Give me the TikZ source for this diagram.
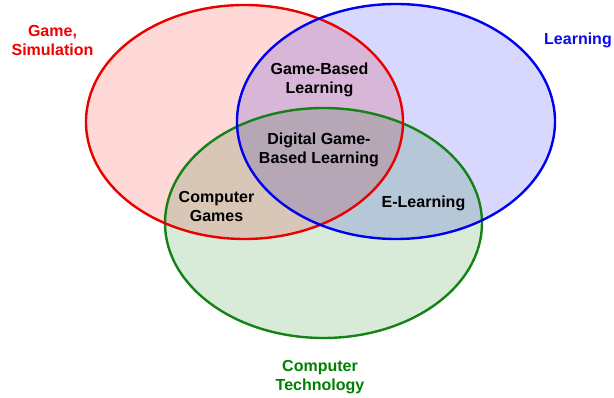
\documentclass[tikz,border=0pt]{standalone}
\usepackage{fontspec}
\setmainfont{Liberation Sans}
\begin{document}
\begin{tikzpicture}[x=1pt,y=1pt,
  setfill/.style={line width=0pt,draw=none},
  setline/.style={line width=2.4pt},
  lbl/.style={font=\bfseries\fontsize{16}{19}\selectfont,align=center,inner sep=0pt},
]
\definecolor{gsred}{RGB}{255,216,216}
\definecolor{gsblue}{RGB}{216,216,255}
\definecolor{gsgreen}{RGB}{216,235,216}
\definecolor{linered}{RGB}{235,0,0}
\definecolor{lineblue}{RGB}{0,0,240}
\definecolor{linegreen}{RGB}{20,130,20}
\definecolor{txtred}{RGB}{240,0,0}
\definecolor{txtblue}{RGB}{10,10,240}
\definecolor{txtgreen}{RGB}{0,128,0}
\useasboundingbox (0,0) rectangle (614,398);
\fill[white] (0,0) rectangle (614,398);
% set fills, multiplied where they overlap
\begin{scope}[blend group=multiply]
  \fill[gsred]   (244.5,276)   ellipse [x radius=158.5, y radius=117];
  \fill[gsblue]  (396,276.5)   ellipse [x radius=159,   y radius=117.5];
  \fill[gsgreen] (323.5,175)   ellipse [x radius=158.5, y radius=115];
\end{scope}
% outlines
\draw[setline,linegreen] (323.5,175) ellipse [x radius=158.5, y radius=115];
\draw[setline,linered]   (244.5,276) ellipse [x radius=158.5, y radius=117];
\draw[setline,lineblue]  (396,276.5) ellipse [x radius=159,   y radius=117.5];
% labels
\node[lbl,text=txtred]   (game)  at (52.5,358)  {Game,\\Simulation};
\node[lbl,text=txtblue]  (learn) at (578,358)   {Learning};
\node[lbl,text=txtgreen] (tech)  at (320,21)    {Computer\\Technology};
\node[lbl] (gbl)  at (319.5,318) {Game-Based\\Learning};
\node[lbl] (dgbl) at (319,248)   {Digital Game-\\Based Learning};
\node[lbl] (cg)   at (216.5,192) {Computer\\Games};
\node[lbl] (el)   at (423.5,195) {E-Learning};
\end{tikzpicture}
\end{document}
